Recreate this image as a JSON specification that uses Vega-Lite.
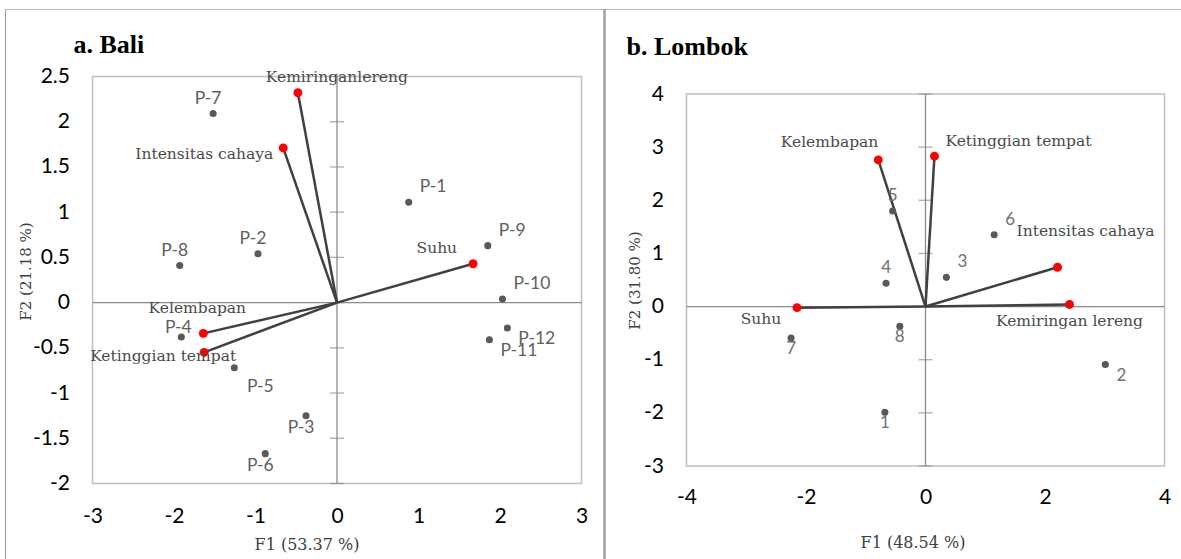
{
  "$schema": "https://vega.github.io/schema/vega-lite/v6.json",
  "background": "white",
  "padding": {"left": 3.5, "top": 6.5, "right": 0, "bottom": 0},
  "bounds": "flush",
  "center": true,
  "spacing": 105,
  "config": {
    "view": {"stroke": "#c0c0c0", "strokeWidth": 1.5},
    "axis": {"labelFont": "Lato", "titleFont": "DejaVu Serif"}
  },
  "datasets": {
    "bali_obs": [
      {"name": "P-1", "F1": 0.88, "F2": 1.11},
      {"name": "P-2", "F1": -0.97, "F2": 0.54},
      {"name": "P-3", "F1": -0.38, "F2": -1.25},
      {"name": "P-4", "F1": -1.91, "F2": -0.38},
      {"name": "P-5", "F1": -1.26, "F2": -0.72},
      {"name": "P-6", "F1": -0.88, "F2": -1.67},
      {"name": "P-7", "F1": -1.52, "F2": 2.09},
      {"name": "P-8", "F1": -1.93, "F2": 0.41},
      {"name": "P-9", "F1": 1.85, "F2": 0.63},
      {"name": "P-10", "F1": 2.03, "F2": 0.04},
      {"name": "P-11", "F1": 1.87, "F2": -0.41},
      {"name": "P-12", "F1": 2.09, "F2": -0.28}
    ],
    "bali_var": [
      {"name": "Kemiringanlereng", "F1": -0.48, "F2": 2.32},
      {"name": "Intensitas cahaya", "F1": -0.66, "F2": 1.71},
      {"name": "Suhu", "F1": 1.67, "F2": 0.43},
      {"name": "Kelembapan", "F1": -1.64, "F2": -0.34},
      {"name": "Ketinggian tempat", "F1": -1.63, "F2": -0.55}
    ],
    "lombok_obs": [
      {"name": "1", "F1": -0.68, "F2": -1.99},
      {"name": "2", "F1": 3.01, "F2": -1.09},
      {"name": "3", "F1": 0.35, "F2": 0.55},
      {"name": "4", "F1": -0.66, "F2": 0.44},
      {"name": "5", "F1": -0.55, "F2": 1.8},
      {"name": "6", "F1": 1.15, "F2": 1.35},
      {"name": "7", "F1": -2.25, "F2": -0.59},
      {"name": "8", "F1": -0.43, "F2": -0.37}
    ],
    "lombok_var": [
      {"name": "Kelembapan", "F1": -0.79, "F2": 2.76},
      {"name": "Ketinggian tempat", "F1": 0.15, "F2": 2.83},
      {"name": "Intensitas cahaya", "F1": 2.21, "F2": 0.74},
      {"name": "Kemiringan lereng", "F1": 2.41, "F2": 0.04},
      {"name": "Suhu", "F1": -2.15, "F2": -0.02}
    ],
    "bali_ticks": [{"v": -2}, {"v": -1.5}, {"v": -1}, {"v": -0.5}, {"v": 0}, {"v": 0.5}, {"v": 1}, {"v": 1.5}, {"v": 2}, {"v": 2.5}],
    "lombok_ticks": [{"v": -3}, {"v": -2}, {"v": -1}, {"v": 0}, {"v": 1}, {"v": 2}, {"v": 3}, {"v": 4}]
  },
  "hconcat": [
    {
      "width": 489,
      "height": 407,
      "title": {"text": "a. Bali", "anchor": "start", "frame": "group", "dx": -19, "offset": -71, "baseline": "alphabetic", "font": "Liberation Serif", "fontSize": 26, "fontWeight": "bold", "color": "#000000"},
      "layer": [
        {
          "data": {"values": [{}]},
          "mark": {"type": "rule", "color": "#9a9a9a", "strokeWidth": 1},
          "encoding": {
            "x": {"datum": -4.0675, "type": "quantitative", "scale": {"domain": [-3, 3], "nice": false, "zero": false}},
            "y": {"datum": 3.2408, "type": "quantitative", "scale": {"domain": [-2, 2.5], "nice": false, "zero": false}},
            "y2": {"datum": -2.9}
          }
        },
        {
          "data": {"values": [{}]},
          "mark": {"type": "rule", "color": "#b4b4b4", "strokeWidth": 1},
          "encoding": {
            "x": {"datum": -4.0675, "type": "quantitative", "scale": {"domain": [-3, 3], "nice": false, "zero": false}},
            "x2": {"datum": 10.45},
            "y": {"datum": 3.2408, "type": "quantitative", "scale": {"domain": [-2, 2.5], "nice": false, "zero": false}}
          }
        },
        {
          "data": {"values": [{}]},
          "mark": {"type": "rule", "color": "#a0a0a0", "strokeWidth": 2.5},
          "encoding": {
            "x": {"datum": 3.2822, "type": "quantitative", "scale": {"domain": [-3, 3], "nice": false, "zero": false}},
            "y": {"datum": 3.2408, "type": "quantitative", "scale": {"domain": [-2, 2.5], "nice": false, "zero": false}},
            "y2": {"datum": -2.9}
          }
        },
        {
          "data": {"values": [{}]},
          "mark": {"type": "rule", "color": "#8c8c8c", "strokeWidth": 1.3},
          "encoding": {
            "x": {
              "datum": 0, "type": "quantitative",
              "scale": {"domain": [-3, 3], "nice": false, "zero": false},
              "axis": {"values": [-3, -2, -1, 0, 1, 2, 3], "labelExpr": "'' + datum.value", "domain": false, "ticks": false, "grid": false, "labelFontSize": 21, "labelColor": "#000000", "labelPadding": 22, "labelFlush": false, "labelOverlap": false, "title": "F1 (53.37 %)", "titleFontSize": 16, "titleFontWeight": "normal", "titleColor": "#404040", "titleX": 214, "titleY": 66, "titleBaseline": "alphabetic", "titleAlign": "center"}
            },
            "y": {
              "datum": -2, "type": "quantitative",
              "scale": {"domain": [-2, 2.5], "nice": false, "zero": false},
              "axis": {"values": [-2, -1.5, -1, -0.5, 0, 0.5, 1, 1.5, 2, 2.5], "labelExpr": "'' + datum.value", "domain": false, "ticks": false, "grid": false, "labelFontSize": 21, "labelColor": "#000000", "labelPadding": 23, "labelFlush": false, "labelOverlap": false, "title": "F2 (21.18 %)", "titleFontSize": 15, "titleFontWeight": "normal", "titleColor": "#404040", "titleX": -62, "titleY": 194.5, "titleAngle": 270, "titleBaseline": "alphabetic", "titleAlign": "center"}
            },
            "y2": {"datum": 2.5}
          }
        },
        {
          "data": {"values": [{}]},
          "mark": {"type": "rule", "color": "#8c8c8c", "strokeWidth": 1.3},
          "encoding": {
            "x": {"datum": -3, "type": "quantitative", "scale": {"domain": [-3, 3], "nice": false, "zero": false}},
            "x2": {"datum": 3},
            "y": {"datum": 0, "type": "quantitative", "scale": {"domain": [-2, 2.5], "nice": false, "zero": false}}
          }
        },
        {
          "data": {"name": "bali_ticks"},
          "mark": {"type": "tick", "orient": "horizontal", "size": 14, "thickness": 1.3, "color": "#8c8c8c"},
          "encoding": {
            "x": {"datum": 0, "type": "quantitative", "scale": {"domain": [-3, 3], "nice": false, "zero": false}},
            "y": {"field": "v", "type": "quantitative", "scale": {"domain": [-2, 2.5], "nice": false, "zero": false}}
          }
        },
        {
          "data": {"name": "bali_var"},
          "mark": {"type": "rule", "color": "#404040", "strokeWidth": 2.5},
          "encoding": {
            "x": {"field": "F1", "type": "quantitative", "scale": {"domain": [-3, 3], "nice": false, "zero": false}},
            "y": {"field": "F2", "type": "quantitative", "scale": {"domain": [-2, 2.5], "nice": false, "zero": false}},
            "x2": {"datum": 0},
            "y2": {"datum": 0}
          }
        },
        {
          "data": {"name": "bali_obs"},
          "mark": {"type": "circle", "size": 50, "color": "#595959", "opacity": 1},
          "encoding": {
            "x": {"field": "F1", "type": "quantitative", "scale": {"domain": [-3, 3], "nice": false, "zero": false}},
            "y": {"field": "F2", "type": "quantitative", "scale": {"domain": [-2, 2.5], "nice": false, "zero": false}}
          }
        },
        {
          "data": {"name": "bali_var"},
          "mark": {"type": "circle", "size": 80, "color": "#ff0000", "opacity": 1},
          "encoding": {
            "x": {"field": "F1", "type": "quantitative", "scale": {"domain": [-3, 3], "nice": false, "zero": false}},
            "y": {"field": "F2", "type": "quantitative", "scale": {"domain": [-2, 2.5], "nice": false, "zero": false}}
          }
        },
        {
          "data": {"name": "bali_obs"},
          "transform": [{"filter": {"field": "name", "oneOf": ["P-7", "P-2", "P-8"]}}],
          "mark": {"type": "text", "font": "Lato", "fontSize": 17.5, "color": "#606060", "align": "center", "baseline": "middle", "dx": -5, "dy": -15},
          "encoding": {
            "x": {"field": "F1", "type": "quantitative", "scale": {"domain": [-3, 3], "nice": false, "zero": false}},
            "y": {"field": "F2", "type": "quantitative", "scale": {"domain": [-2, 2.5], "nice": false, "zero": false}},
            "text": {"field": "name"}
          }
        },
        {
          "data": {"name": "bali_obs"},
          "transform": [{"filter": {"field": "name", "oneOf": ["P-1", "P-9", "P-10"]}}],
          "mark": {"type": "text", "font": "Lato", "fontSize": 17.5, "color": "#606060", "align": "left", "baseline": "middle", "dx": 11, "dy": -15},
          "encoding": {
            "x": {"field": "F1", "type": "quantitative", "scale": {"domain": [-3, 3], "nice": false, "zero": false}},
            "y": {"field": "F2", "type": "quantitative", "scale": {"domain": [-2, 2.5], "nice": false, "zero": false}},
            "text": {"field": "name"}
          }
        },
        {
          "data": {"name": "bali_obs"},
          "transform": [{"filter": {"field": "name", "oneOf": ["P-11", "P-12"]}}],
          "mark": {"type": "text", "font": "Lato", "fontSize": 17.5, "color": "#606060", "align": "left", "baseline": "middle", "dx": 11, "dy": 11},
          "encoding": {
            "x": {"field": "F1", "type": "quantitative", "scale": {"domain": [-3, 3], "nice": false, "zero": false}},
            "y": {"field": "F2", "type": "quantitative", "scale": {"domain": [-2, 2.5], "nice": false, "zero": false}},
            "text": {"field": "name"}
          }
        },
        {
          "data": {"name": "bali_obs"},
          "transform": [{"filter": {"field": "name", "oneOf": ["P-3", "P-6"]}}],
          "mark": {"type": "text", "font": "Lato", "fontSize": 17.5, "color": "#606060", "align": "center", "baseline": "middle", "dx": -5, "dy": 12},
          "encoding": {
            "x": {"field": "F1", "type": "quantitative", "scale": {"domain": [-3, 3], "nice": false, "zero": false}},
            "y": {"field": "F2", "type": "quantitative", "scale": {"domain": [-2, 2.5], "nice": false, "zero": false}},
            "text": {"field": "name"}
          }
        },
        {
          "data": {"name": "bali_obs"},
          "transform": [{"filter": {"field": "name", "oneOf": ["P-4"]}}],
          "mark": {"type": "text", "font": "Lato", "fontSize": 17.5, "color": "#606060", "align": "center", "baseline": "middle", "dx": -3, "dy": -9},
          "encoding": {
            "x": {"field": "F1", "type": "quantitative", "scale": {"domain": [-3, 3], "nice": false, "zero": false}},
            "y": {"field": "F2", "type": "quantitative", "scale": {"domain": [-2, 2.5], "nice": false, "zero": false}},
            "text": {"field": "name"}
          }
        },
        {
          "data": {"name": "bali_obs"},
          "transform": [{"filter": {"field": "name", "oneOf": ["P-5"]}}],
          "mark": {"type": "text", "font": "Lato", "fontSize": 17.5, "color": "#606060", "align": "center", "baseline": "middle", "dx": 26, "dy": 19},
          "encoding": {
            "x": {"field": "F1", "type": "quantitative", "scale": {"domain": [-3, 3], "nice": false, "zero": false}},
            "y": {"field": "F2", "type": "quantitative", "scale": {"domain": [-2, 2.5], "nice": false, "zero": false}},
            "text": {"field": "name"}
          }
        },
        {
          "data": {"name": "bali_var"},
          "transform": [{"filter": {"field": "name", "oneOf": ["Kemiringanlereng"]}}],
          "mark": {"type": "text", "font": "DejaVu Serif", "fontSize": 15.5, "color": "#4a4a4a", "align": "center", "baseline": "middle", "dx": 39, "dy": -16},
          "encoding": {
            "x": {"field": "F1", "type": "quantitative", "scale": {"domain": [-3, 3], "nice": false, "zero": false}},
            "y": {"field": "F2", "type": "quantitative", "scale": {"domain": [-2, 2.5], "nice": false, "zero": false}},
            "text": {"field": "name"}
          }
        },
        {
          "data": {"name": "bali_var"},
          "transform": [{"filter": {"field": "name", "oneOf": ["Intensitas cahaya"]}}],
          "mark": {"type": "text", "font": "DejaVu Serif", "fontSize": 15.5, "color": "#4a4a4a", "align": "right", "baseline": "middle", "dx": -10, "dy": 6},
          "encoding": {
            "x": {"field": "F1", "type": "quantitative", "scale": {"domain": [-3, 3], "nice": false, "zero": false}},
            "y": {"field": "F2", "type": "quantitative", "scale": {"domain": [-2, 2.5], "nice": false, "zero": false}},
            "text": {"field": "name"}
          }
        },
        {
          "data": {"name": "bali_var"},
          "transform": [{"filter": {"field": "name", "oneOf": ["Suhu"]}}],
          "mark": {"type": "text", "font": "DejaVu Serif", "fontSize": 15.5, "color": "#4a4a4a", "align": "right", "baseline": "middle", "dx": -16, "dy": -16},
          "encoding": {
            "x": {"field": "F1", "type": "quantitative", "scale": {"domain": [-3, 3], "nice": false, "zero": false}},
            "y": {"field": "F2", "type": "quantitative", "scale": {"domain": [-2, 2.5], "nice": false, "zero": false}},
            "text": {"field": "name"}
          }
        },
        {
          "data": {"name": "bali_var"},
          "transform": [{"filter": {"field": "name", "oneOf": ["Kelembapan"]}}],
          "mark": {"type": "text", "font": "DejaVu Serif", "fontSize": 15.5, "color": "#4a4a4a", "align": "center", "baseline": "middle", "dx": -6, "dy": -25},
          "encoding": {
            "x": {"field": "F1", "type": "quantitative", "scale": {"domain": [-3, 3], "nice": false, "zero": false}},
            "y": {"field": "F2", "type": "quantitative", "scale": {"domain": [-2, 2.5], "nice": false, "zero": false}},
            "text": {"field": "name"}
          }
        },
        {
          "data": {"name": "bali_var"},
          "transform": [{"filter": {"field": "name", "oneOf": ["Ketinggian tempat"]}}],
          "mark": {"type": "text", "font": "DejaVu Serif", "fontSize": 15.5, "color": "#4a4a4a", "align": "center", "baseline": "middle", "dx": -41, "dy": 4},
          "encoding": {
            "x": {"field": "F1", "type": "quantitative", "scale": {"domain": [-3, 3], "nice": false, "zero": false}},
            "y": {"field": "F2", "type": "quantitative", "scale": {"domain": [-2, 2.5], "nice": false, "zero": false}},
            "text": {"field": "name"}
          }
        }
      ]
    },
    {
      "width": 478,
      "height": 372,
      "title": {"text": "b. Lombok", "anchor": "start", "frame": "group", "dx": -60, "offset": 2, "baseline": "alphabetic", "font": "Liberation Serif", "fontSize": 26, "fontWeight": "bold", "color": "#000000"},
      "layer": [
        {
          "data": {"values": [{}]},
          "mark": {"type": "rule", "color": "#8c8c8c", "strokeWidth": 1.3},
          "encoding": {
            "x": {
              "datum": 0, "type": "quantitative",
              "scale": {"domain": [-4, 4], "nice": false, "zero": false},
              "axis": {"values": [-4, -2, 0, 2, 4], "labelExpr": "'' + datum.value", "domain": false, "ticks": false, "grid": false, "labelFontSize": 21, "labelColor": "#000000", "labelPadding": 20, "labelFlush": false, "labelOverlap": false, "title": "F1 (48.54 %)", "titleFontSize": 16, "titleFontWeight": "normal", "titleColor": "#404040", "titleX": 226, "titleY": 81.5, "titleBaseline": "alphabetic", "titleAlign": "center"}
            },
            "y": {
              "datum": -3, "type": "quantitative",
              "scale": {"domain": [-3, 4], "nice": false, "zero": false},
              "axis": {"values": [-3, -2, -1, 0, 1, 2, 3, 4], "labelExpr": "'' + datum.value", "domain": false, "ticks": false, "grid": false, "labelFontSize": 21, "labelColor": "#000000", "labelPadding": 23, "labelFlush": false, "labelOverlap": false, "title": "F2 (31.80 %)", "titleFontSize": 15, "titleFontWeight": "normal", "titleColor": "#404040", "titleX": -47, "titleY": 186, "titleAngle": 270, "titleBaseline": "alphabetic", "titleAlign": "center"}
            },
            "y2": {"datum": 4}
          }
        },
        {
          "data": {"values": [{}]},
          "mark": {"type": "rule", "color": "#8c8c8c", "strokeWidth": 1.3},
          "encoding": {
            "x": {"datum": -4, "type": "quantitative", "scale": {"domain": [-4, 4], "nice": false, "zero": false}},
            "x2": {"datum": 4},
            "y": {"datum": 0, "type": "quantitative", "scale": {"domain": [-3, 4], "nice": false, "zero": false}}
          }
        },
        {
          "data": {"name": "lombok_ticks"},
          "mark": {"type": "tick", "orient": "horizontal", "size": 14, "thickness": 1.3, "color": "#8c8c8c"},
          "encoding": {
            "x": {"datum": 0, "type": "quantitative", "scale": {"domain": [-4, 4], "nice": false, "zero": false}},
            "y": {"field": "v", "type": "quantitative", "scale": {"domain": [-3, 4], "nice": false, "zero": false}}
          }
        },
        {
          "data": {"name": "lombok_var"},
          "mark": {"type": "rule", "color": "#404040", "strokeWidth": 2.5},
          "encoding": {
            "x": {"field": "F1", "type": "quantitative", "scale": {"domain": [-4, 4], "nice": false, "zero": false}},
            "y": {"field": "F2", "type": "quantitative", "scale": {"domain": [-3, 4], "nice": false, "zero": false}},
            "x2": {"datum": 0},
            "y2": {"datum": 0}
          }
        },
        {
          "data": {"name": "lombok_obs"},
          "mark": {"type": "circle", "size": 50, "color": "#595959", "opacity": 1},
          "encoding": {
            "x": {"field": "F1", "type": "quantitative", "scale": {"domain": [-4, 4], "nice": false, "zero": false}},
            "y": {"field": "F2", "type": "quantitative", "scale": {"domain": [-3, 4], "nice": false, "zero": false}}
          }
        },
        {
          "data": {"name": "lombok_var"},
          "mark": {"type": "circle", "size": 80, "color": "#ff0000", "opacity": 1},
          "encoding": {
            "x": {"field": "F1", "type": "quantitative", "scale": {"domain": [-4, 4], "nice": false, "zero": false}},
            "y": {"field": "F2", "type": "quantitative", "scale": {"domain": [-3, 4], "nice": false, "zero": false}}
          }
        },
        {
          "data": {"name": "lombok_obs"},
          "transform": [{"filter": {"field": "name", "oneOf": ["5", "4"]}}],
          "mark": {"type": "text", "font": "Lato", "fontSize": 17, "color": "#707070", "align": "center", "baseline": "middle", "dx": 0, "dy": -15},
          "encoding": {
            "x": {"field": "F1", "type": "quantitative", "scale": {"domain": [-4, 4], "nice": false, "zero": false}},
            "y": {"field": "F2", "type": "quantitative", "scale": {"domain": [-3, 4], "nice": false, "zero": false}},
            "text": {"field": "name"}
          }
        },
        {
          "data": {"name": "lombok_obs"},
          "transform": [{"filter": {"field": "name", "oneOf": ["6", "3"]}}],
          "mark": {"type": "text", "font": "Lato", "fontSize": 17, "color": "#707070", "align": "center", "baseline": "middle", "dx": 16, "dy": -15},
          "encoding": {
            "x": {"field": "F1", "type": "quantitative", "scale": {"domain": [-4, 4], "nice": false, "zero": false}},
            "y": {"field": "F2", "type": "quantitative", "scale": {"domain": [-3, 4], "nice": false, "zero": false}},
            "text": {"field": "name"}
          }
        },
        {
          "data": {"name": "lombok_obs"},
          "transform": [{"filter": {"field": "name", "oneOf": ["8", "7", "1"]}}],
          "mark": {"type": "text", "font": "Lato", "fontSize": 17, "color": "#707070", "align": "center", "baseline": "middle", "dx": 0, "dy": 11},
          "encoding": {
            "x": {"field": "F1", "type": "quantitative", "scale": {"domain": [-4, 4], "nice": false, "zero": false}},
            "y": {"field": "F2", "type": "quantitative", "scale": {"domain": [-3, 4], "nice": false, "zero": false}},
            "text": {"field": "name"}
          }
        },
        {
          "data": {"name": "lombok_obs"},
          "transform": [{"filter": {"field": "name", "oneOf": ["2"]}}],
          "mark": {"type": "text", "font": "Lato", "fontSize": 17, "color": "#707070", "align": "center", "baseline": "middle", "dx": 16, "dy": 12},
          "encoding": {
            "x": {"field": "F1", "type": "quantitative", "scale": {"domain": [-4, 4], "nice": false, "zero": false}},
            "y": {"field": "F2", "type": "quantitative", "scale": {"domain": [-3, 4], "nice": false, "zero": false}},
            "text": {"field": "name"}
          }
        },
        {
          "data": {"name": "lombok_var"},
          "transform": [{"filter": {"field": "name", "oneOf": ["Kelembapan"]}}],
          "mark": {"type": "text", "font": "DejaVu Serif", "fontSize": 15.5, "color": "#4a4a4a", "align": "right", "baseline": "middle", "dx": 0, "dy": -18},
          "encoding": {
            "x": {"field": "F1", "type": "quantitative", "scale": {"domain": [-4, 4], "nice": false, "zero": false}},
            "y": {"field": "F2", "type": "quantitative", "scale": {"domain": [-3, 4], "nice": false, "zero": false}},
            "text": {"field": "name"}
          }
        },
        {
          "data": {"name": "lombok_var"},
          "transform": [{"filter": {"field": "name", "oneOf": ["Ketinggian tempat"]}}],
          "mark": {"type": "text", "font": "DejaVu Serif", "fontSize": 15.5, "color": "#4a4a4a", "align": "left", "baseline": "middle", "dx": 11, "dy": -15},
          "encoding": {
            "x": {"field": "F1", "type": "quantitative", "scale": {"domain": [-4, 4], "nice": false, "zero": false}},
            "y": {"field": "F2", "type": "quantitative", "scale": {"domain": [-3, 4], "nice": false, "zero": false}},
            "text": {"field": "name"}
          }
        },
        {
          "data": {"name": "lombok_var"},
          "transform": [{"filter": {"field": "name", "oneOf": ["Intensitas cahaya"]}}],
          "mark": {"type": "text", "font": "DejaVu Serif", "fontSize": 15.5, "color": "#4a4a4a", "align": "left", "baseline": "middle", "dx": -41, "dy": -36},
          "encoding": {
            "x": {"field": "F1", "type": "quantitative", "scale": {"domain": [-4, 4], "nice": false, "zero": false}},
            "y": {"field": "F2", "type": "quantitative", "scale": {"domain": [-3, 4], "nice": false, "zero": false}},
            "text": {"field": "name"}
          }
        },
        {
          "data": {"name": "lombok_var"},
          "transform": [{"filter": {"field": "name", "oneOf": ["Kemiringan lereng"]}}],
          "mark": {"type": "text", "font": "DejaVu Serif", "fontSize": 15.5, "color": "#4a4a4a", "align": "center", "baseline": "middle", "dx": 0, "dy": 17},
          "encoding": {
            "x": {"field": "F1", "type": "quantitative", "scale": {"domain": [-4, 4], "nice": false, "zero": false}},
            "y": {"field": "F2", "type": "quantitative", "scale": {"domain": [-3, 4], "nice": false, "zero": false}},
            "text": {"field": "name"}
          }
        },
        {
          "data": {"name": "lombok_var"},
          "transform": [{"filter": {"field": "name", "oneOf": ["Suhu"]}}],
          "mark": {"type": "text", "font": "DejaVu Serif", "fontSize": 15.5, "color": "#4a4a4a", "align": "center", "baseline": "middle", "dx": -36, "dy": 11},
          "encoding": {
            "x": {"field": "F1", "type": "quantitative", "scale": {"domain": [-4, 4], "nice": false, "zero": false}},
            "y": {"field": "F2", "type": "quantitative", "scale": {"domain": [-3, 4], "nice": false, "zero": false}},
            "text": {"field": "name"}
          }
        }
      ]
    }
  ]
}
